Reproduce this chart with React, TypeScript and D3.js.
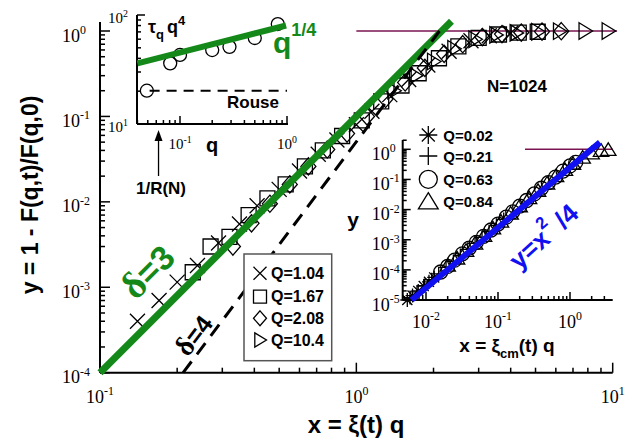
import React from 'react';
import * as d3 from 'd3';

const W = 639;
const H = 446;
const SANS = 'Liberation Sans, Arial, sans-serif';
const SERIF = 'Liberation Serif, Times New Roman, serif';
const GREEN = '#14891a';
const BLUE = '#1010f0';
const MAROON = '#7a1450';

// main panel: x = xi(t) q , y = 1 - F(q,t)/F(q,0)
const q104X = [0.14, 0.17, 0.2, 0.24, 0.29, 0.35, 0.41, 0.5, 0.6, 0.71, 0.84, 1.0, 1.15, 1.35, 1.6, 1.9, 2.3, 2.8, 3.3, 4.0];
const q104Y = [4.0e-4, 7.0e-4, 1.15e-3, 1.8e-3, 3.3e-3, 5.5e-3, 9e-3, 1.4e-2, 2.3e-2, 3.6e-2, 5.3e-2, 8.0e-2, 0.115, 0.18, 0.27, 0.4, 0.58, 0.77, 0.88, 0.94];
const q167X = [0.23, 0.27, 0.32, 0.38, 0.45, 0.53, 0.63, 0.74, 0.88, 1.05, 1.25, 1.5, 1.75, 2.1, 2.5, 3.0, 3.6, 4.3, 5.1];
const q167Y = [1.5e-3, 3.0e-3, 3.9e-3, 7e-3, 1.1e-2, 1.6e-2, 2.6e-2, 4.0e-2, 5.9e-2, 9.0e-2, 0.15, 0.23, 0.32, 0.48, 0.66, 0.83, 0.91, 0.955, 0.98];
const q208X = [0.33, 0.39, 0.46, 0.55, 0.65, 0.77, 0.92, 1.1, 1.3, 1.55, 1.85, 2.2, 2.6, 3.1, 3.7, 4.4, 5.3, 6.3];
const q208Y = [3.0e-3, 5.6e-3, 9.5e-3, 1.6e-2, 2.6e-2, 4.1e-2, 6.3e-2, 0.1, 0.16, 0.25, 0.37, 0.54, 0.7, 0.85, 0.92, 0.96, 0.985, 0.995];
const q104bX = [1.4, 1.7, 2.0, 2.4, 2.9, 3.5, 4.2, 5.1, 6.2, 7.8, 9.6];
const q104bY = [0.2, 0.3, 0.44, 0.62, 0.8, 0.9, 0.95, 0.98, 0.995, 1.0, 1.0];

const mainLabels = ['Q=1.04', 'Q=1.67', 'Q=2.08', 'Q=10.4'];
const mainShapes = ['cross', 'square', 'diamond', 'tri-right'];

// fitted lines of the main panel (end points)
const delta3X = [0.1, 2.35];
const delta3Y = [1e-4, 1.3];
const delta4X = [0.211, 2.11];
const delta4Y = [1e-4, 1.0];
const plateauX = [1.0, 10.4];

// top inset: tau_q q^4 against q
const tauQ = [0.049, 0.081, 0.1, 0.2, 0.29, 0.5, 0.82];
const tauVal = [20.2, 36, 43, 47.7, 51, 61.5, 82.6];
const powQ = [0.04, 0.98];
const powVal = [36.0, 80.1];
const rouseQ = [0.052, 1.0];
const rouseVal = 20.2;
const arrowQ = 0.063;

// right inset: x = xi_cm(t) q
const i002X = [0.0055, 0.0065, 0.0078, 0.0093, 0.011, 0.013];
const i002Y = [1.0e-5, 1.4e-5, 2.0e-5, 2.9e-5, 4.0e-5, 5.6e-5];
const i021X = [0.006, 0.0075, 0.0095, 0.012, 0.015, 0.019, 0.024, 0.03, 0.038, 0.048, 0.06, 0.075, 0.095, 0.12];
const i021Y = [1.2e-5, 1.85e-5, 3.0e-5, 4.7e-5, 7.4e-5, 1.2e-4, 1.9e-4, 3.0e-4, 4.8e-4, 7.6e-4, 1.2e-3, 1.85e-3, 3.0e-3, 4.7e-3];
const i063X = [0.016, 0.02, 0.025, 0.032, 0.04, 0.05, 0.063, 0.08, 0.1, 0.13, 0.16, 0.2, 0.25, 0.32, 0.4, 0.5, 0.63, 0.8, 1.0, 1.2];
const i063Y = [8.5e-5, 1.3e-4, 2.1e-4, 3.4e-4, 5.3e-4, 8.2e-4, 1.3e-3, 2.1e-3, 3.3e-3, 5.6e-3, 8.4e-3, 1.3e-2, 2.0e-2, 3.3e-2, 5.1e-2, 7.8e-2, 0.12, 0.19, 0.28, 0.37];
const i084X = [0.02, 0.027, 0.036, 0.048, 0.064, 0.085, 0.11, 0.15, 0.2, 0.27, 0.36, 0.48, 0.64, 0.85, 1.1, 1.5, 2.0, 2.7, 3.4];
const i084Y = [1.4e-4, 2.4e-4, 4.3e-4, 7.5e-4, 1.35e-3, 2.4e-3, 4.0e-3, 7.4e-3, 1.3e-2, 2.4e-2, 4.2e-2, 7.4e-2, 0.13, 0.21, 0.33, 0.53, 0.74, 0.9, 0.96];
const insetLabels = ['Q=0.02', 'Q=0.21', 'Q=0.63', 'Q=0.84'];
const insetShapes = ['asterisk', 'plus', 'circle', 'tri-up'];
const blueX = [0.0063, 2.6];
const blueY = [1e-5, 1.7];
const insetPlateauX = [0.237, 3.9];

const markerPath = (shape: string, s: number) => {
  switch (shape) {
    case 'cross':
      return `M${-s},${-s}L${s},${s}M${-s},${s}L${s},${-s}`;
    case 'plus':
      return `M${-s},0L${s},0M0,${-s}L0,${s}`;
    case 'asterisk': {
      const k = s * 0.72;
      return `M${-s},0L${s},0M0,${-s}L0,${s}M${-k},${-k}L${k},${k}M${-k},${k}L${k},${-k}`;
    }
    case 'square':
      return `M${-s},${-s}H${s}V${s}H${-s}Z`;
    case 'diamond':
      return `M0,${-s * 1.15}L${s},0L0,${s * 1.15}L${-s},0Z`;
    case 'tri-right':
      return `M${-s * 0.8},${-s * 1.1}L${s},0L${-s * 0.8},${s * 1.1}Z`;
    case 'tri-up':
      return `M0,${-s}L${s * 1.1},${s * 0.8}L${-s * 1.1},${s * 0.8}Z`;
    default:
      return `M${s},0A${s},${s} 0 1,1 ${-s},0A${s},${s} 0 1,1 ${s},0Z`;
  }
};

const Marker = ({ shape, x, y, s }: { shape: string; x: number; y: number; s: number }) => (
  <path d={markerPath(shape, s)} transform={`translate(${x},${y})`} fill="none" stroke="#000" strokeWidth={1.3} />
);

const logTicks = (lo: number, hi: number) => {
  const out: { v: number; major: boolean }[] = [];
  for (let d = Math.floor(Math.log10(lo)); d <= Math.ceil(Math.log10(hi)); d++) {
    for (let m = 1; m < 10; m++) {
      const v = m * Math.pow(10, d);
      if (v >= lo * 0.999 && v <= hi * 1.001) out.push({ v, major: m === 1 });
    }
  }
  return out;
};

const Pow = ({ x, y, e, anchor, size }: { x: number; y: number; e: number; anchor: string; size: number }) => (
  <text x={x} y={y} textAnchor={anchor} fontFamily={SERIF} fontSize={size}>
    10<tspan dy={-size * 0.42} fontSize={size * 0.66}>{e}</tspan>
  </text>
);

const Axes = ({ xs, ys, x0, x1, y0, y1, maj, min, xe, ye, xSize, ySize, xDy, yLeft, yDy }: any) => {
  const xt = logTicks(xs.invert(x0), xs.invert(x1));
  const yt = logTicks(ys.invert(y0), ys.invert(y1));
  return (
    <g>
      <line x1={x0} x2={x0} y1={y0} y2={y1} stroke="#000" strokeWidth={2} />
      <line x1={x0} x2={x1} y1={y0} y2={y0} stroke="#000" strokeWidth={2} />
      {xt.map((t, i) => (
        <line key={`xt${i}`} x1={xs(t.v)} x2={xs(t.v)} y1={y0} y2={y0 - (t.major ? maj : min)} stroke="#000" strokeWidth={1.5} />
      ))}
      {yt.map((t, i) => (
        <line key={`yt${i}`} x1={x0} x2={x0 + (t.major ? maj : min)} y1={ys(t.v)} y2={ys(t.v)} stroke="#000" strokeWidth={1.5} />
      ))}
      {xe.map((e: number) => (
        <Pow key={`xl${e}`} x={xs(Math.pow(10, e))} y={y0 + xDy} e={e} anchor="middle" size={xSize} />
      ))}
      {ye.map((e: number) => (
        <Pow key={`yl${e}`} x={yLeft} y={ys(Math.pow(10, e)) + yDy} e={e} anchor="start" size={ySize} />
      ))}
    </g>
  );
};

const App = () => {
  // main panel scales
  const x = d3.scaleLog().domain([0.1, 10]).range([100, 612.7]);
  const y = d3.scaleLog().domain([1e-4, 1]).range([372.7, 31]);
  // top inset scales
  const tx = d3.scaleLog().domain([0.1, 1]).range([180, 287]);
  const ty = d3.scaleLog().domain([10, 100]).range([124, 15]);
  // right inset scales
  const rx = d3.scaleLog().domain([0.01, 1]).range([426, 570]);
  const ry = d3.scaleLog().domain([1e-5, 1]).range([300, 149.3]);

  const mainSeries = [
    { xs: q104X, ys: q104Y },
    { xs: q167X, ys: q167Y },
    { xs: q208X, ys: q208Y },
    { xs: q104bX, ys: q104bY },
  ];
  const insetSeries = [
    { xs: i002X, ys: i002Y },
    { xs: i021X, ys: i021Y },
    { xs: i063X, ys: i063Y },
    { xs: i084X, ys: i084Y },
  ];
  const line = (sx: any, sy: any, xs: number[], ys: number[]) =>
    d3.line<number>().x((_, i) => sx(xs[i])).y((_, i) => sy(ys[i]))(xs) as string;

  return (
    <svg width={W} height={H} viewBox={`0 0 ${W} ${H}`} style={{ position: 'absolute', left: 0, top: 0, background: '#fff' }}>
      <rect width={W} height={H} fill="#fff" />

      {/* main panel */}
      <Axes xs={x} ys={y} x0={100} x1={612.7} y0={372.7} y1={22} maj={10} min={5}
        xe={[-1, 0, 1]} ye={[0, -1, -2, -3, -4]} xSize={18} ySize={18} xDy={30} yLeft={62} yDy={10.5} />
      <line x1={x(plateauX[0])} x2={x(plateauX[1])} y1={y(1)} y2={y(1)} stroke={MAROON} strokeWidth={1.5} />
      {mainSeries.map((s, k) =>
        s.xs.map((v, i) => <Marker key={`m${k}-${i}`} shape={mainShapes[k]} x={x(v)} y={y(s.ys[i])} s={7.5} />)
      )}
      <path d={line(x, y, delta3X, delta3Y)} stroke={GREEN} strokeWidth={7} fill="none" />
      <path d={line(x, y, delta4X, delta4Y)} stroke="#000" strokeWidth={3} strokeDasharray="14,9" fill="none" />
      <text transform="translate(150,274) rotate(-45)" textAnchor="middle" dominantBaseline="middle"
        fontFamily={SANS} fontWeight="bold" fontSize={34} fill={GREEN}>
        <tspan fontFamily={SERIF} fontSize={38}>δ</tspan>=3
      </text>
      <text transform="translate(196,337) rotate(-53)" textAnchor="middle" dominantBaseline="middle"
        fontFamily={SANS} fontWeight="bold" fontSize={25} fill="#000">
        <tspan fontFamily={SERIF} fontSize={28}>δ</tspan>=4
      </text>
      <text x={487} y={92} fontFamily={SANS} fontWeight="bold" fontSize={17}>N=1024</text>

      {/* main legend */}
      <rect x={244} y={254} width={87.7} height={106.7} fill="#fff" stroke="#555" strokeWidth={1.5} />
      {mainLabels.map((l, i) => {
        const yy = [273.3, 296.7, 318.3, 340][i];
        return (
          <g key={l}>
            <Marker shape={mainShapes[i]} x={260} y={yy} s={6.5} />
            <text x={271} y={yy + 5.5} fontFamily={SANS} fontWeight="bold" fontSize={16}>{l}</text>
          </g>
        );
      })}

      {/* axis titles */}
      <text transform="translate(38,195) rotate(-90)" textAnchor="middle" fontFamily={SANS} fontWeight="bold" fontSize={23}>
        y = 1 - F(q,t)/F(q,0)
      </text>
      <text x={356} y={433} textAnchor="middle" fontFamily={SANS} fontWeight="bold" fontSize={24}>
        x = ξ(t) q
      </text>

      {/* top inset */}
      <Axes xs={tx} ys={ty} x0={137} x1={288} y0={124} y1={15} maj={8} min={4}
        xe={[-1, 0]} ye={[2, 1]} xSize={15} ySize={15} xDy={25} yLeft={108} yDy={8} />
      <line x1={tx(rouseQ[0])} x2={tx(rouseQ[1])} y1={ty(rouseVal)} y2={ty(rouseVal)} stroke="#000" strokeWidth={2} strokeDasharray="10,7" />
      {tauQ.map((q, i) => (
        <circle key={`c${i}`} cx={tx(q)} cy={ty(tauVal[i])} r={6.5} fill="none" stroke="#000" strokeWidth={1.3} />
      ))}
      <path d={line(tx, ty, powQ, powVal)} stroke={GREEN} strokeWidth={6} fill="none" />
      <text x={148} y={33} fontFamily={SANS} fontWeight="bold" fontSize={18}>
        τ<tspan dy={6} fontSize={13}>q</tspan><tspan dy={-6} dx={3}>q</tspan><tspan dy={-8} fontSize={13}>4</tspan>
      </text>
      <text x={227} y={108} fontFamily={SANS} fontWeight="bold" fontSize={17}>Rouse</text>
      <text x={212} y={152} textAnchor="middle" fontFamily={SANS} fontWeight="bold" fontSize={20}>q</text>
      <text x={273} y={53} fontFamily={SANS} fontWeight="bold" fontSize={30} fill={GREEN}>
        q<tspan dy={-17} fontSize={18}>1/4</tspan>
      </text>
      <line x1={tx(arrowQ)} x2={tx(arrowQ)} y1={176} y2={138} stroke="#000" strokeWidth={1.3} />
      <path d={`M${tx(arrowQ)},130L${tx(arrowQ) + 4},141L${tx(arrowQ) - 4},141Z`} fill="#000" />
      <text x={161} y={194} textAnchor="middle" fontFamily={SANS} fontWeight="bold" fontSize={17}>1/R(N)</text>

      {/* right inset */}
      <Axes xs={rx} ys={ry} x0={402.7} x1={612.7} y0={300} y1={140} maj={8} min={4}
        xe={[-2, -1, 0]} ye={[0, -1, -2, -3, -4, -5]} xSize={18} ySize={18} xDy={28} yLeft={371.7} yDy={10.5} />
      <line x1={rx(insetPlateauX[0])} x2={rx(insetPlateauX[1])} y1={ry(1)} y2={ry(1)} stroke={MAROON} strokeWidth={1.5} />
      {insetSeries.map((s, k) =>
        s.xs.map((v, i) => <Marker key={`i${k}-${i}`} shape={insetShapes[k]} x={rx(v)} y={ry(s.ys[i])} s={7} />)
      )}
      <path d={line(rx, ry, blueX, blueY)} stroke={BLUE} strokeWidth={6} fill="none" />
      <text transform="translate(545,238) rotate(-42)" textAnchor="middle" dominantBaseline="middle"
        fontFamily={SANS} fontWeight="bold" fontSize={26} fill={BLUE}>
        y=x<tspan dy={-12} fontSize={17}>2</tspan><tspan dy={12}> /4</tspan>
      </text>
      {insetLabels.map((l, i) => {
        const yy = [135, 156, 179.3, 201.7][i];
        return (
          <g key={l}>
            <Marker shape={insetShapes[i]} x={428.3} y={yy} s={9} />
            <text x={443.3} y={yy + 5.5} fontFamily={SANS} fontWeight="bold" fontSize={15}>{l}</text>
          </g>
        );
      })}
      <text x={353} y={227} textAnchor="middle" fontFamily={SANS} fontWeight="bold" fontSize={21}>y</text>
      <text x={507} y={352} textAnchor="middle" fontFamily={SANS} fontWeight="bold" fontSize={19}>
        x = ξ<tspan dy={6} fontSize={13}>cm</tspan><tspan dy={-6}>(t) q</tspan>
      </text>
    </svg>
  );
};

export default App;
